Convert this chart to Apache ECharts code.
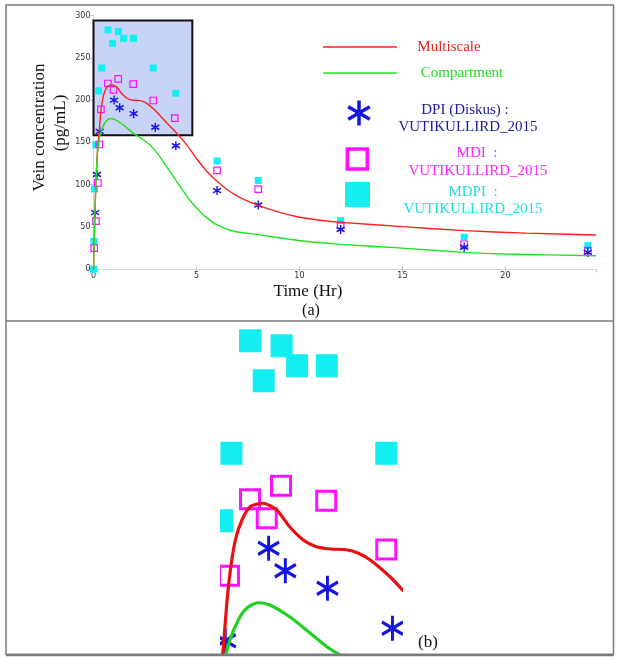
<!DOCTYPE html>
<html><head><meta charset="utf-8">
<script src="https://cdn.jsdelivr.net/npm/echarts@6/dist/echarts.min.js"></script>
<style>html,body{margin:0;padding:0;background:#fff}#c{width:621px;height:661px}</style>
</head><body><div id="c"></div>
<script>
// ---- data ----
const timeDPI = [0.083, 0.167, 0.3, 1.0, 1.27, 1.95, 3.0, 4.0, 6.0, 8.0, 12.0, 18.0, 24.0];
const concDPI = [67, 112, 163, 200, 191, 184, 168, 146, 93, 76, 47, 26, 20];

const timeMDI = [0.033, 0.12, 0.21, 0.28, 0.36, 0.7, 0.97, 1.2, 1.93, 2.9, 3.95, 6.0, 8.0, 12.0, 18.0, 24.0];
const concMDI = [25, 57, 102, 147.5, 189, 219.6, 212, 225, 219, 199.5, 178.7, 117, 94.7, 52, 29.6, 22];

const timeMDPI = [0, 0.02, 0.05, 0.12, 0.25, 0.4, 0.7, 0.92, 1.21, 1.46, 1.94, 2.9, 4.0, 6.0, 8.0, 12.0, 18.0, 24.0];
const concMDPI = [0, 33, 95, 147, 211, 238, 283, 267, 281, 273, 273, 238, 208, 128, 105, 57.5, 38, 28];

const timeMulti = [0, 0.04, 0.08, 0.13, 0.19, 0.27, 0.32, 0.376, 0.46, 0.57, 0.7, 0.91, 1.13, 1.34, 1.56, 1.77, 2.0, 2.26, 2.45, 2.64, 2.96, 3.19, 3.6, 4.0, 4.5, 5.0, 5.5, 6.0, 6.5, 7.1, 8.0, 9.0, 10.0, 11.0, 12.0, 15.0, 18.0, 21.0, 24.4];
const concMulti = [0, 40, 75, 110, 140, 160.6, 176.6, 190, 203, 211.3, 216.6, 218, 215.3, 208.6, 203.3, 200.6, 199.7, 199.4, 198, 195.3, 188.6, 182.6, 172, 162, 148, 131, 116, 104, 94, 85, 75.5, 67.5, 61.5, 58, 55.5, 50.4, 45.7, 42.8, 40.6];

const timeComp = [0, 0.04, 0.08, 0.13, 0.19, 0.27, 0.376, 0.51, 0.645, 0.83, 1.02, 1.34, 1.61, 1.94, 2.3, 2.75, 3.1, 3.56, 4.0, 4.37, 4.7, 5.2, 5.6, 6.0, 6.8, 8.0, 9.5, 10.5, 12.0, 15.0, 18.0, 20.0, 24.4];
const concComp = [0, 40, 75, 108, 135, 153, 163.3, 171.3, 176, 178.2, 177.3, 172.6, 167.3, 160.6, 155, 147, 137, 121, 105, 92, 81, 67.5, 59, 52.5, 45, 41, 35.5, 32.5, 29.5, 25, 20, 18, 16];

// zoom box (x range, y range) shown enlarged in panel (b)
const boxTime = [0, 4.8];
const boxConc = [158.5, 294];
// axis ranges
const xRangeA = [0, 24.4], yRangeA = [0, 300];
const xRangeB = [0.215, 3.17], yRangeB = [158.1, 290.5];

const pairs = (xs, ys) => xs.map((x, i) => [x, ys[i]]);

const STAR = 'path://M10,0L10,24M0,6L20,18M0,18L20,6';
const BLUE = '#1414e6', MAG = '#ff10ff', CYAN = '#12eef2', RED = '#ff2020', GREEN = '#22e022';
const SERIF = '"Liberation Serif", "Times New Roman", serif';

const chart = echarts.init(document.getElementById('c'), null, {renderer: 'canvas'});

function setSeries(idx, big) {
  return [
    {type: 'line', name: 'Multiscale', xAxisIndex: idx, yAxisIndex: idx, data: pairs(timeMulti, concMulti),
     showSymbol: false, symbol: 'none', smooth: 0.25, clip: true,
     lineStyle: {color: big ? '#e81010' : RED, width: big ? 3.2 : 1.4}},
    {type: 'line', name: 'Compartment', xAxisIndex: idx, yAxisIndex: idx, data: pairs(timeComp, concComp),
     showSymbol: false, symbol: 'none', smooth: 0.25, clip: true,
     lineStyle: {color: big ? '#22d022' : GREEN, width: big ? 3.2 : 1.4}},
    {type: 'scatter', name: 'MDPI', xAxisIndex: idx, yAxisIndex: idx, data: pairs(timeMDPI, concMDPI),
     symbol: 'rect', symbolSize: big ? [22, 23] : 7, clip: big,
     itemStyle: {color: CYAN, opacity: 1}},
    {type: 'scatter', name: 'MDI', xAxisIndex: idx, yAxisIndex: idx, data: pairs(timeMDI, concMDI),
     symbol: 'rect', symbolSize: big ? 19 : 6.5, clip: big,
     itemStyle: {color: 'rgba(0,0,0,0)', borderColor: MAG, borderWidth: big ? 3 : 1.2, opacity: 1}},
    {type: 'scatter', name: 'DPI', xAxisIndex: idx, yAxisIndex: idx, data: pairs(timeDPI, concDPI),
     symbol: STAR, symbolSize: big ? [21, 25] : [8, 9], clip: big,
     itemStyle: {color: 'rgba(0,0,0,0)', borderColor: BLUE, borderWidth: big ? 3.2 : 1.5, opacity: 1}}
  ];
}

const series = setSeries(0, false).concat(setSeries(1, true));
series.push({
  type: 'line', xAxisIndex: 0, yAxisIndex: 0, data: [], z: 5, silent: true,
  markArea: {silent: true,
    itemStyle: {color: 'rgba(70,110,230,0.30)', borderColor: '#111', borderWidth: 2},
    data: [[{coord: [boxTime[0], boxConc[1]]}, {coord: [boxTime[1], boxConc[0]]}]]}
});

const axisGray = '#c4c4c4';
const tickLabel = {fontSize: 8, color: '#333', fontFamily: '"DejaVu Sans", sans-serif'};

const graphics = [];
// panel masks for (b) so markers are cropped at the zoom window edges
graphics.push({type: 'rect', z: 100, shape: {x: 7, y: 322, width: 213, height: 331}, style: {fill: '#fff'}});
graphics.push({type: 'rect', z: 100, shape: {x: 403, y: 322, width: 209, height: 331}, style: {fill: '#fff'}});
// frame
graphics.push({type: 'rect', z: 101, shape: {x: 6, y: 5, width: 607.5, height: 649.5}, style: {fill: null, stroke: '#7a7a7a', lineWidth: 1.5}});
graphics.push({type: 'line', z: 101, shape: {x1: 6, y1: 321, x2: 613.5, y2: 321}, style: {stroke: '#7a7a7a', lineWidth: 1.5}});
graphics.push({type: 'line', z: 101, shape: {x1: 6, y1: 655, x2: 613.5, y2: 655}, style: {stroke: '#7a7a7a', lineWidth: 2.5}});
// axis titles
graphics.push({type: 'text', z: 101, x: 40, y: 127.5, rotation: Math.PI / 2,
  style: {text: 'Vein concentration', font: '17px ' + SERIF, fill: '#111', align: 'center', verticalAlign: 'middle'}});
graphics.push({type: 'text', z: 101, x: 61, y: 123, rotation: Math.PI / 2,
  style: {text: '(pg/mL)', font: '17px ' + SERIF, fill: '#111', align: 'center', verticalAlign: 'middle'}});
graphics.push({type: 'text', z: 101, x: 308, y: 292,
  style: {text: 'Time (Hr)', font: '17px ' + SERIF, fill: '#111', align: 'center', verticalAlign: 'middle'}});
graphics.push({type: 'text', z: 101, x: 311, y: 311,
  style: {text: '(a)', font: '16px ' + SERIF, fill: '#111', align: 'center', verticalAlign: 'middle'}});
graphics.push({type: 'text', z: 101, x: 428, y: 643,
  style: {text: '(b)', font: '17px ' + SERIF, fill: '#111', align: 'center', verticalAlign: 'middle'}});
// legend
const legFont = '15px ' + SERIF;
graphics.push({type: 'line', z: 101, shape: {x1: 323, y1: 47, x2: 397, y2: 47}, style: {stroke: RED, lineWidth: 1.5}});
graphics.push({type: 'text', z: 101, x: 449, y: 47, style: {text: 'Multiscale', font: legFont, fill: '#ee2020', align: 'center', verticalAlign: 'middle'}});
graphics.push({type: 'line', z: 101, shape: {x1: 323, y1: 73, x2: 397, y2: 73}, style: {stroke: GREEN, lineWidth: 1.5}});
graphics.push({type: 'text', z: 101, x: 462, y: 73, style: {text: 'Compartment', font: legFont, fill: '#22dd22', align: 'center', verticalAlign: 'middle'}});
// legend asterisk: three strokes
const ax = 359, ay = 113;
[[0, -12.5, 0, 12.5], [-10.8, -6.2, 10.8, 6.2], [-10.8, 6.2, 10.8, -6.2]].forEach(s => {
  graphics.push({type: 'line', z: 101, shape: {x1: ax + s[0], y1: ay + s[1], x2: ax + s[2], y2: ay + s[3]},
    style: {stroke: BLUE, lineWidth: 3.5}});
});
graphics.push({type: 'text', z: 101, x: 465, y: 110, style: {text: 'DPI (Diskus) :', font: legFont, fill: '#1c1c9c', align: 'center', verticalAlign: 'middle'}});
graphics.push({type: 'text', z: 101, x: 468, y: 127, style: {text: 'VUTIKULLIRD_2015', font: legFont, fill: '#1c1c9c', align: 'center', verticalAlign: 'middle'}});
graphics.push({type: 'rect', z: 101, shape: {x: 347.3, y: 149, width: 20, height: 20}, style: {fill: null, stroke: MAG, lineWidth: 3.5}});
graphics.push({type: 'text', z: 101, x: 477, y: 153, style: {text: 'MDI  :', font: legFont, fill: '#ff22ff', align: 'center', verticalAlign: 'middle'}});
graphics.push({type: 'text', z: 101, x: 478, y: 171, style: {text: 'VUTIKULLIRD_2015', font: legFont, fill: '#ff22ff', align: 'center', verticalAlign: 'middle'}});
graphics.push({type: 'rect', z: 101, shape: {x: 345, y: 182, width: 25, height: 25}, style: {fill: CYAN}});
graphics.push({type: 'text', z: 101, x: 473, y: 192, style: {text: 'MDPI  :', font: legFont, fill: '#22dddd', align: 'center', verticalAlign: 'middle'}});
graphics.push({type: 'text', z: 101, x: 473, y: 209, style: {text: 'VUTIKULLIRD_2015', font: legFont, fill: '#22dddd', align: 'center', verticalAlign: 'middle'}});

const option = {
  animation: false,
  backgroundColor: '#fff',
  grid: [
    {left: 93.5, top: 15.5, width: 502.5, height: 253.8, containLabel: false},
    {left: 220, top: 322, width: 183, height: 331, containLabel: false}
  ],
  xAxis: [
    {gridIndex: 0, type: 'value', min: xRangeA[0], max: xRangeA[1], interval: 5,
     axisLine: {lineStyle: {color: axisGray}}, axisTick: {inside: true, length: 3, lineStyle: {color: axisGray}},
     axisLabel: Object.assign({margin: 3, showMaxLabel: false}, tickLabel), splitLine: {show: false}},
    {gridIndex: 1, type: 'value', min: xRangeB[0], max: xRangeB[1], show: false, splitLine: {show: false}},
    {gridIndex: 0, type: 'value', position: 'top', min: xRangeA[0], max: xRangeA[1], interval: 5,
     axisLine: {lineStyle: {color: '#d8d8d8'}}, axisTick: {inside: true, length: 3, lineStyle: {color: axisGray}},
     axisLabel: {show: false}, splitLine: {show: false}}
  ],
  yAxis: [
    {gridIndex: 0, type: 'value', min: yRangeA[0], max: yRangeA[1], interval: 50,
     axisLine: {show: true, lineStyle: {color: axisGray}}, axisTick: {show: true, inside: false, length: 3, lineStyle: {color: axisGray}},
     axisLabel: Object.assign({margin: 3}, tickLabel), splitLine: {show: false}},
    {gridIndex: 1, type: 'value', min: yRangeB[0], max: yRangeB[1], show: false, splitLine: {show: false}},
    {gridIndex: 0, type: 'value', position: 'right', min: yRangeA[0], max: yRangeA[1], interval: 50,
     axisLine: {show: true, lineStyle: {color: '#d8d8d8'}}, axisTick: {show: true, inside: true, length: 3, lineStyle: {color: axisGray}},
     axisLabel: {show: false}, splitLine: {show: false}}
  ],
  series: series,
  graphic: {elements: graphics}
};
chart.setOption(option);
</script></body></html>
